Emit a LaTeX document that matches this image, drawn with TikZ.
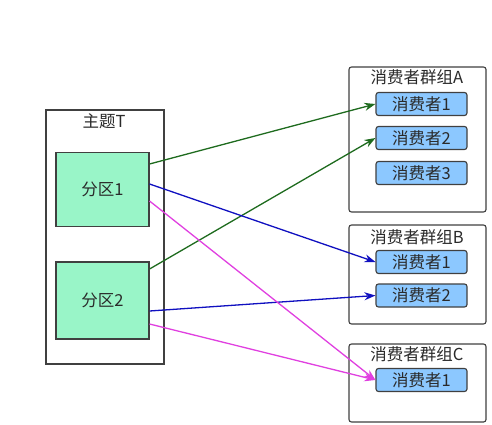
\documentclass[tikz,border=0pt]{standalone}
\usepackage{fontspec}
\setmainfont{Noto Sans CJK SC}
\usetikzlibrary{arrows.meta}
\definecolor{partfill}{HTML}{99F5C8}
\definecolor{consfill}{HTML}{8CC8FF}
\definecolor{linegray}{HTML}{404040}
\definecolor{txtgray}{HTML}{2A2A2A}
\definecolor{agreen}{HTML}{1E6B1E}
\definecolor{ablue}{HTML}{1010C0}
\definecolor{amag}{HTML}{E040E0}
\tikzset{
  boxframe/.style={draw=linegray, line width=1.1pt, fill=white},
  groupframe/.style={draw=linegray, line width=1.1pt, fill=white, rounded corners=2.5pt},
  partbox/.style={draw=linegray, line width=1.1pt, fill=partfill, minimum width=93pt, minimum height=74pt, font=\fontsize{16.5}{19}\selectfont, text=txtgray, inner sep=0pt},
  consbox/.style={draw=linegray, line width=1.1pt, fill=consfill, rounded corners=2.5pt, minimum width=91pt, minimum height=23pt, font=\fontsize{16.5}{19}\selectfont, text=txtgray, inner sep=0pt},
  lbl/.style={font=\fontsize{16.5}{19}\selectfont, text=txtgray, inner sep=0pt},
  conn/.style={line width=1.3pt, -{Stealth[length=11pt,width=8pt]}},
}
\begin{document}
\begin{tikzpicture}[x=1pt,y=-1pt]
\useasboundingbox (0,0) rectangle (492,425);
% topic
\node[boxframe, minimum width=118pt, minimum height=254pt, inner sep=0pt] (topic) at (105,237) {};
\node[lbl] (topiclbl) at (104,121) {主题T};
\node[partbox] (p1) at (102.5,189.5) {分区1};
\node[partbox, minimum height=77pt] (p2) at (102.5,300.5) {分区2};
% group A
\node[groupframe, minimum width=137pt, minimum height=145pt, inner sep=0pt] (ga) at (417.5,139.5) {};
\node[lbl] (galbl) at (417,77) {消费者群组A};
\node[consbox] (a1) at (421.5,104) {消费者1};
\node[consbox] (a2) at (421.5,138) {消费者2};
\node[consbox] (a3) at (421.5,173) {消费者3};
% group B
\node[groupframe, minimum width=137pt, minimum height=99pt, inner sep=0pt] (gb) at (417.5,274.5) {};
\node[lbl] (gblbl) at (417,237) {消费者群组B};
\node[consbox] (b1) at (421.5,262) {消费者1};
\node[consbox] (b2) at (421.5,295.5) {消费者2};
% group C
\node[groupframe, minimum width=137pt, minimum height=78pt, inner sep=0pt] (gc) at (417.5,383) {};
\node[lbl] (gclbl) at (417,354) {消费者群组C};
\node[consbox] (c1) at (421.5,380) {消费者1};
% connectors
\draw[conn, agreen] (p1.east |- 0,164) -- (a1.west);
\draw[conn, agreen] (p2.east |- 0,269) -- (a2.west);
\draw[conn, ablue] (p1.east |- 0,184) -- (b1.west);
\draw[conn, ablue] (p2.east |- 0,311) -- (b2.west);
\draw[conn, amag] (p1.east |- 0,201) -- (c1.west);
\draw[conn, amag] (p2.east |- 0,324) -- (c1.west);
\end{tikzpicture}
\end{document}
